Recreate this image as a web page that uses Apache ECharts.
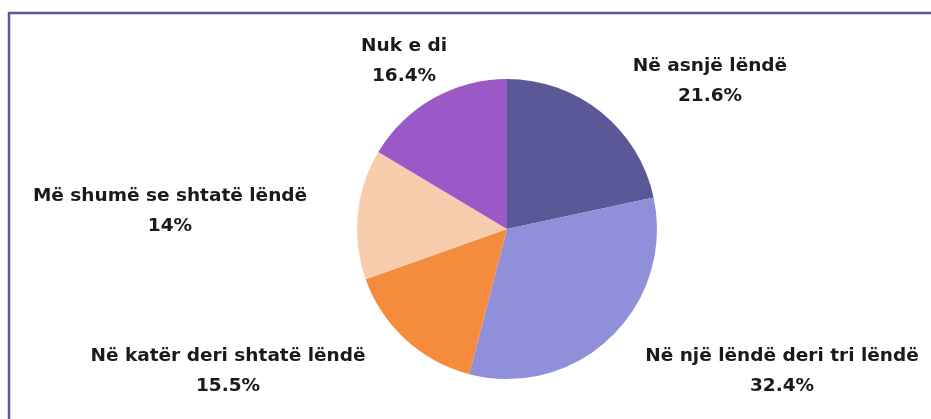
<!DOCTYPE html>
<html>
<head>
<meta charset="utf-8">
<script src="https://cdn.jsdelivr.net/npm/echarts@6/dist/echarts.min.js"></script>
<style>
    html, body { margin: 0; padding: 0; background: #fff; }
    #chart { width: 931px; height: 419px; }
</style>
</head>
<body>
<div id="chart"></div>
<script>
let categories = ['Në asnjë lëndë', 'Në një lëndë deri tri lëndë', 'Në katër deri shtatë lëndë', 'Më shumë se shtatë lëndë', 'Nuk e di'];
let percents = [21.6, 32.4, 15.5, 14, 16.4];
let sliceColors = ['#5a5896', '#8f90d9', '#f58b3c', '#f7cdae', '#9b59c8'];

let chart = echarts.init(document.getElementById('chart'));

let pieData = [];
for (let i = 0; i < categories.length; i++) {
    pieData.push({
        name: categories[i],
        value: percents[i],
        itemStyle: { color: sliceColors[i] }
    });
}

// where each label block is centred (excel-style placement)
function labelSpot(params) {
    let spots = [[710, 81], [782, 371], [228, 371], [170, 211], [404, 61]];
    let s = spots[params.dataIndex];
    return {
        x: s[0],
        y: s[1],
        align: 'center',
        verticalAlign: 'middle'
    };
}

let option = {
    backgroundColor: '#ffffff',
    animation: false,
    graphic: [
        {
            type: 'rect',
            shape: { x: 9, y: 13, width: 1000, height: 1000 },
            style: { fill: 'none', stroke: '#5b5a9d', lineWidth: 2.5 },
            silent: true
        }
    ],
    series: [
        {
            type: 'pie',
            center: [507, 229],
            radius: 150,
            startAngle: 90,
            clockwise: true,
            data: pieData,
            label: {
                show: true,
                position: 'outside',
                formatter: function (p) {
                    return p.name + '\n' + p.value + '%';
                },
                color: '#1a1a1a',
                fontFamily: 'DejaVu Sans',
                fontWeight: 'bold',
                fontSize: 18.5,
                lineHeight: 30,
                align: 'center',
                overflow: 'none',
                width: 400
            },
            labelLine: { show: false },
            labelLayout: labelSpot
        }
    ]
};

chart.setOption(option);
</script>
</body>
</html>
